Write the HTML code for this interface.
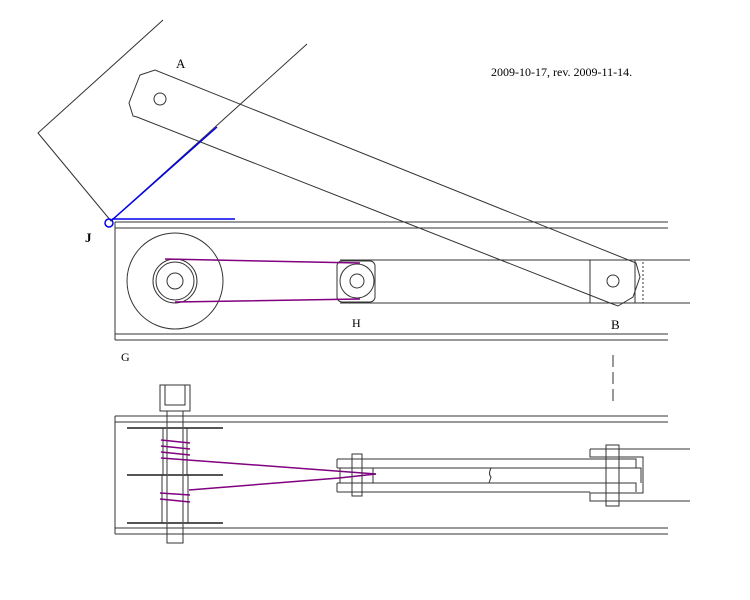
<!DOCTYPE html>
<html><head><style>body{margin:0;background:#fff}svg{display:block}text{font-family:"Liberation Serif",serif;fill:#000}</style></head><body>
<svg width="750" height="600" viewBox="0 0 750 600" fill="none" stroke="#333" stroke-width="1">
<!-- top view frame -->
<path d="M115 222H668M115 228H668M115 334H668M115 340H668M115 222V340"/>
<path d="M340 260H690M340 303H690M590 260V303M635 260V303"/>
<path d="M643 262V303" stroke-dasharray="2,2"/>
<circle cx="175" cy="281" r="48"/>
<circle cx="175" cy="281" r="22"/><circle cx="175" cy="281" r="19"/><circle cx="175" cy="281" r="8"/>
<rect x="337" y="261" width="38" height="41" rx="5"/>
<circle cx="357" cy="281" r="17"/><circle cx="357" cy="281" r="7"/>
<circle cx="613" cy="281" r="6"/>
<!-- arm A -->
<path d="M140 75L155 70L636 263L640 277L633 297L618 306L610 303L137 117L133 116L129 103Z"/>
<circle cx="160" cy="99" r="6"/>
<!-- rotated rect -->
<path d="M163 20L38 133L111 221L307 44"/>
<!-- belt -->
<path d="M165 259L360 263M175 302L360 299" stroke="#800080" stroke-width="1.5"/>
<!-- blue -->
<circle cx="109" cy="223" r="4" stroke="#0000ee" stroke-width="1.5"/>
<path d="M112 220L217 127M112 219H235" stroke="#0000ee" stroke-width="1.5"/>
<path d="M613 355V402" stroke-dasharray="12,5"/>
<!-- bottom view -->
<path d="M115 416H668M115 422H668M115 528H668M115 534H668M115 416V534"/>
<rect x="160" y="385" width="30" height="26"/><path d="M165 385V405H185V385"/>
<rect x="167" y="411" width="16" height="132"/>
<path d="M127 428H223M127 475H223M127 523H223" stroke-width="2" stroke="#555"/>
<path d="M163 428V475M187 428V475M162 475V523M188 475V523"/>
<path d="M161 440L190 443M161 446L190 449M161 452L190 455M161 458L376 474M189 490L339 478M160 493L190 495M160 499L190 502" stroke="#800080" stroke-width="1.5"/>
<path d="M337 459H636V468M337 468H641V483M337 483H636V492M337 492H590M337 459V468M337 483V492M340 468V483M373 468V483"/>
<path d="M376 474L339 478" stroke="#800080" stroke-width="1.5"/>
<rect x="352" y="454" width="10" height="42"/>
<path d="M491 468Q488 474 491 477L489 483" />
<path d="M590 449H690M590 449V457H643V493H590V501H690"/>
<rect x="606" y="445" width="13" height="61"/>
<!-- labels -->
<g stroke="none" font-size="13">
<text x="176" y="68">A</text>
<text x="85" y="242" font-weight="bold">J</text>
<text x="352" y="327" font-size="12">H</text>
<text x="611" y="329">B</text>
<text x="121" y="361" font-size="12">G</text>
<text x="491" y="76" font-size="12">2009-10-17, rev. 2009-11-14.</text>
</g>
</svg>
</body></html>
